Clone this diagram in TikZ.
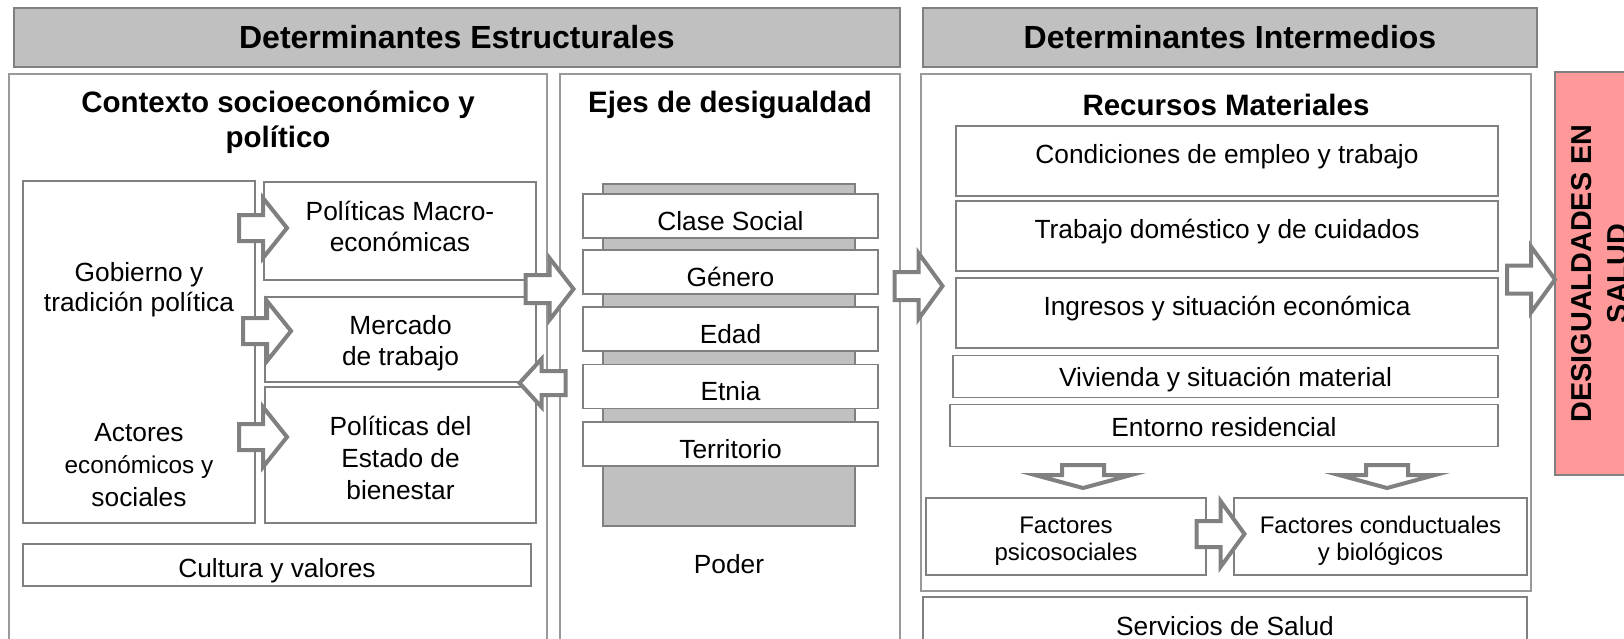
\documentclass[tikz,border=0pt]{standalone}
\usepackage{fontspec}
\setmainfont{Liberation Sans}

\definecolor{bannergray}{HTML}{C0C0C0}
\definecolor{linegray}{HTML}{808080}
\definecolor{saludpink}{HTML}{FF9999}

\newcommand{\upby}[2]{\raisebox{#1pt}[\height][\depth]{#2}}

\tikzset{pics/blockarrow/.style n args={4}{code={
    \draw[arrow_style] (-#1/2,-#4) -- (#1/2-#2,-#4) -- (#1/2-#2,-#3) -- (#1/2,0)
        -- (#1/2-#2,#3) -- (#1/2-#2,#4) -- (-#1/2,#4) -- cycle;
}}}

\begin{document}
\begin{tikzpicture}[x=1pt, y=-1pt]
    \tikzstyle{banner_style} = [draw=linegray, line width=1.5, fill=bannergray, inner sep=0, font=\fontsize{32}{38}\selectfont\bfseries]
    \tikzstyle{panel_style} = [draw=linegray!80, line width=1.5, inner sep=0]
    \tikzstyle{box_style} = [draw=linegray, line width=1.5, fill=white, inner sep=0, align=center, font=\fontsize{26.3}{31}\selectfont]
    \tikzstyle{title_style} = [align=center, inner sep=0, font=\fontsize{29.5}{35}\selectfont\bfseries]
    \tikzstyle{text_style} = [align=center, inner sep=0, font=\fontsize{26.3}{31}\selectfont]
    \tikzstyle{arrow_style} = [draw=linegray, line width=4, fill=white, miter limit=10]

    \useasboundingbox (0,0) rectangle (1624,638);
    \clip (0,0) rectangle (1624,638);

    % headers
    \node[banner_style, minimum width=886, minimum height=59] (est) at (457,37.5) {Determinantes Estructurales};
    \node[banner_style, minimum width=614, minimum height=59] (inter) at (1230,37.5) {Determinantes Intermedios};

    % panels
    \node[panel_style, minimum width=538, minimum height=590] (ctx) at (278,369) {};
    \node[panel_style, minimum width=340, minimum height=590] (ejes) at (730,369) {};
    \node[panel_style, minimum width=610, minimum height=517] (rec) at (1226,332.5) {};
    \node[box_style, minimum width=604, minimum height=70] (serv) at (1225,632) {\upby{6.4}{Servicios de Salud}};

    \node[title_style] (ctx_title) at (278,122.5) {Contexto socioeconómico y\\político};
    \node[title_style] (ejes_title) at (730,105) {Ejes de desigualdad};
    \node[title_style] (rec_title) at (1226,105) {Recursos Materiales};

    % contexto
    \node[box_style, minimum width=232, minimum height=342] (gob) at (139,352) {};
    \node[text_style, font=\fontsize{26.3}{30}\selectfont] (gob_text) at (139,290) {Gobierno y\\tradición política};
    \node[text_style, font=\fontsize{26.3}{32.5}\selectfont] (act_text) at (139,465) {Actores\\{\fontsize{24.3}{32.5}\selectfont económicos y}\\sociales};
    \node[box_style, minimum width=272, minimum height=98] (macro) at (400,231) {};
    \node[text_style] (macro_text) at (400,226.5) {Políticas Macro-\\económicas};
    \node[box_style, minimum width=271, minimum height=85] (merc) at (400.5,339.5) {};
    \node[text_style, font=\fontsize{26.3}{30.6}\selectfont] (merc_text) at (400.5,343) {Mercado\\de trabajo};
    \node[box_style, minimum width=271, minimum height=136] (estado) at (400.5,455) {};
    \node[text_style, font=\fontsize{26.3}{32.3}\selectfont] (estado_text) at (400.5,458) {Políticas del\\Estado de\\bienestar};
    \node[box_style, minimum width=508, minimum height=42] (cult) at (277,565) {\upby{-6}{Cultura y valores}};

    % ejes
    \node[draw=linegray, line width=1.5, fill=bannergray, minimum width=252, minimum height=342] (col) at (729,355) {};
    \node[box_style, minimum width=295, minimum height=44] (clase) at (730.5,216) {\upby{-4.7}{Clase Social}};
    \node[box_style, minimum width=295, minimum height=44] (genero) at (730.5,272) {\upby{-4.7}{Género}};
    \node[box_style, minimum width=295, minimum height=44] (edad) at (730.5,329) {\upby{-4.7}{Edad}};
    \node[box_style, minimum width=295, minimum height=44] (etnia) at (730.5,386.5) {\upby{-4.7}{Etnia}};
    \node[box_style, minimum width=295, minimum height=44] (terr) at (730.5,444) {\upby{-4.7}{Territorio}};
    \node[text_style] (poder) at (729,564) {Poder};

    % recursos
    \node[box_style, minimum width=542, minimum height=70] (cond) at (1227,161) {\upby{4.5}{Condiciones de empleo y trabajo}};
    \node[box_style, minimum width=542, minimum height=70] (trab) at (1227,236) {\upby{4.5}{Trabajo doméstico y de cuidados}};
    \node[box_style, minimum width=542, minimum height=70] (ingr) at (1227,313) {\upby{4.5}{Ingresos y situación económica}};
    \node[box_style, minimum width=545, minimum height=42] (viv) at (1225.5,376.5) {\upby{-3.5}{Vivienda y situación material}};
    \node[box_style, minimum width=548, minimum height=42] (ent) at (1224,425.5) {\upby{-2}{Entorno residencial}};
    \node[box_style, minimum width=280, minimum height=77] (psico) at (1066,536.5) {};
    \node[text_style, font=\fontsize{24}{27}\selectfont] (psico_text) at (1066,541) {Factores\\psicosociales};
    \node[box_style, minimum width=293, minimum height=77] (condu) at (1380.5,536.5) {};
    \node[text_style, font=\fontsize{24}{27}\selectfont] (condu_text) at (1380.5,541) {Factores conductuales\\y biológicos};

    % salida
    \node[draw=linegray, line width=1.5, fill=saludpink, inner sep=0, align=center, rotate=90,
          minimum width=403, minimum height=90, font=\fontsize{28.8}{36}\selectfont\bfseries] (desig) at (1600,273.5) {DESIGUALDADES EN\\SALUD};

    % flechas
    \pic (a_gob_macro) at (263,228) {blockarrow={48}{24}{30}{13}};
    \pic (a_gob_merc) at (267,331) {blockarrow={48}{24}{30}{13}};
    \pic (a_act_estado) at (263,437) {blockarrow={48}{24}{30}{13}};
    \pic (a_ctx_ejes) at (549.5,289) {blockarrow={48}{24}{31}{14}};
    \pic[rotate=180] (a_ejes_merc) at (542.5,383) {blockarrow={46}{22}{24}{12}};
    \pic (a_ejes_rec) at (918.5,286) {blockarrow={48}{24}{33}{14}};
    \pic (a_rec_desig) at (1531,279.5) {blockarrow={48}{24}{33}{14}};
    \pic (a_psico_condu) at (1220.5,534) {blockarrow={48}{24}{33}{13}};
    \pic[rotate=-90] (a_ent_psico) at (1083,476.5) {blockarrow={23}{13}{48}{21}};
    \pic[rotate=-90] (a_ent_condu) at (1387,476.5) {blockarrow={23}{13}{48}{21}};
\end{tikzpicture}
\end{document}
